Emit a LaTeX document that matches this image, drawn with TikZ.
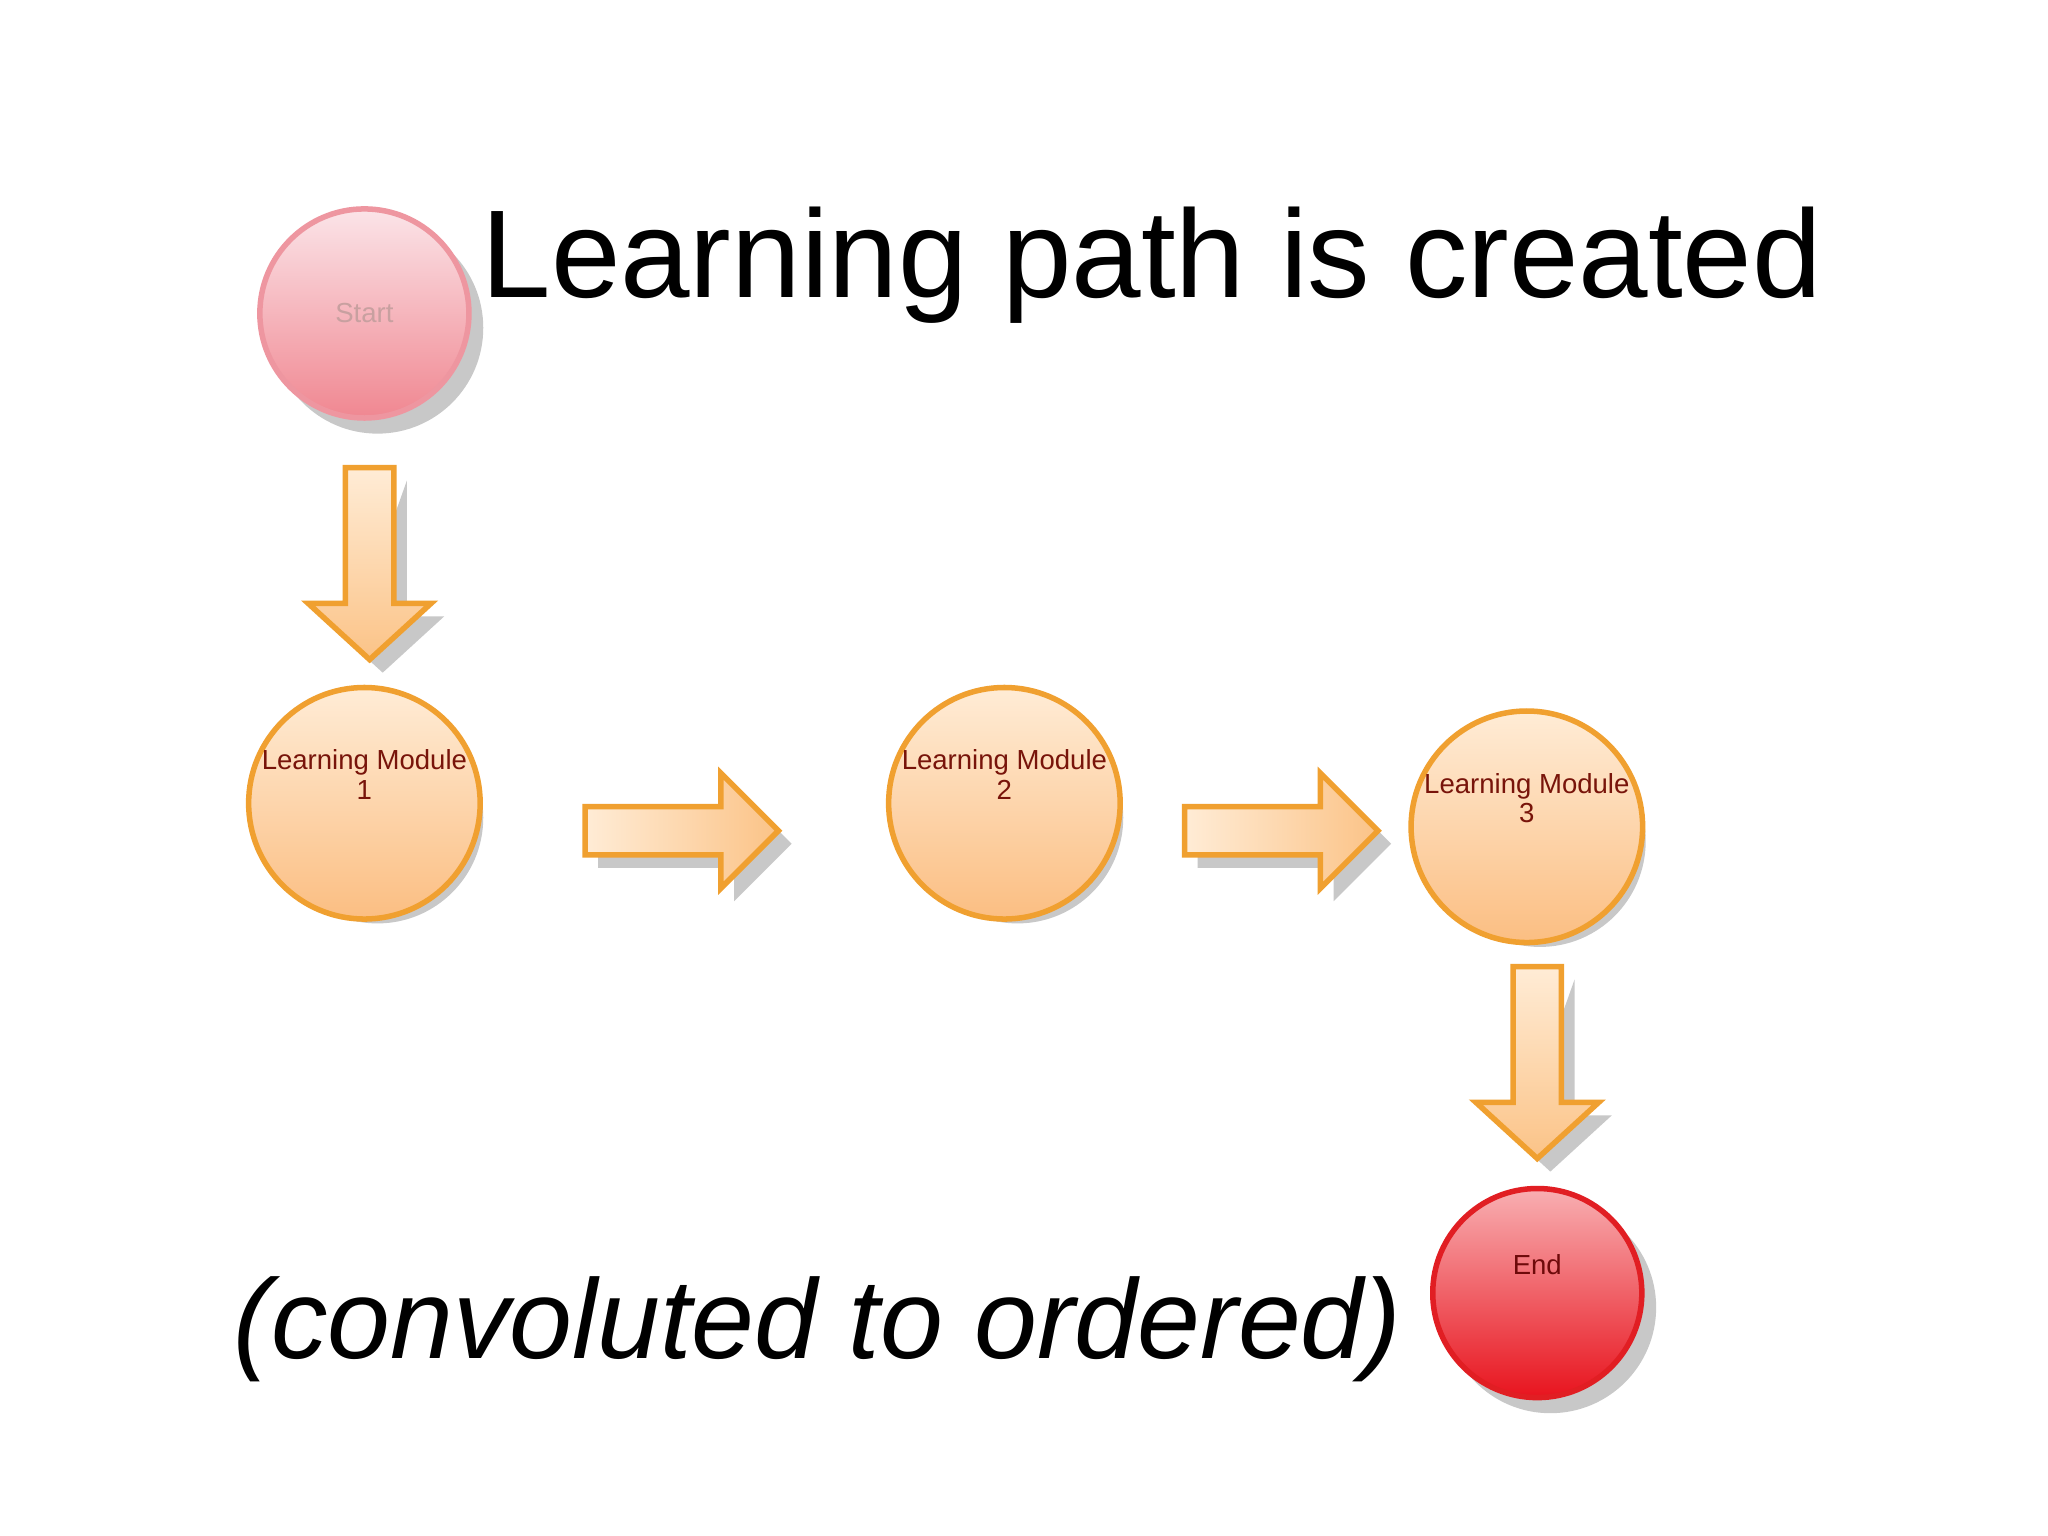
\documentclass[tikz,border=0pt]{standalone}
\usepackage{fontspec}
\setmainfont{Liberation Sans}
\begin{document}
\begin{tikzpicture}[x=0.01cm,y=-0.01cm,
  circ/.style={circle,minimum size=1.6cm,line width=1.2pt,align=center,font=\fontsize{6}{6.5}\selectfont,inner sep=0pt},
  orng/.style={circ,draw={rgb,255:red,240;green,160;blue,48},top color={rgb,255:red,255;green,236;blue,214},bottom color={rgb,255:red,251;green,190;blue,130},text={rgb,255:red,120;green,20;blue,10}},
  pinkc/.style={circ,draw={rgb,255:red,238;green,150;blue,160},top color={rgb,255:red,251;green,228;blue,232},bottom color={rgb,255:red,240;green,135;blue,145},text={rgb,255:red,200;green,160;blue,160}},
  redc/.style={circ,draw={rgb,255:red,225;green,30;blue,35},top color={rgb,255:red,248;green,175;blue,178},bottom color={rgb,255:red,232;green,20;blue,30},text={rgb,255:red,110;green,10;blue,10}},
  shad/.style={fill={rgb,255:red,200;green,200;blue,200}},
  arr/.style={draw={rgb,255:red,240;green,160;blue,48},line width=1.2pt},
  arrv/.style={arr,top color={rgb,255:red,255;green,236;blue,214},bottom color={rgb,255:red,251;green,195;blue,135}},
  arrh/.style={arr,left color={rgb,255:red,255;green,236;blue,214},right color={rgb,255:red,251;green,195;blue,135}},
  pics/darr/.style={code={
    \fill[shad] (28.5,10)--(28.5,114)--(57,114)--(10,157)--(-37,114)--(-8.5,114)--cycle;
    \path[arrv] (-18.5,0)--(18.5,0)--(18.5,104)--(47,104)--(0,147)--(-47,104)--(-18.5,104)--cycle;}},
  pics/rarr/.style={code={
    \fill[shad] (10,-8.5)--(114,-8.5)--(114,-34)--(158,10)--(114,54)--(114,28.5)--(10,28.5)--cycle;
    \path[arrh] (0,-18.5)--(104,-18.5)--(104,-44)--(148,0)--(104,44)--(104,18.5)--(0,18.5)--cycle;}}
]
\useasboundingbox (0,0) rectangle (1568,1176);
\fill[white] (0,0) rectangle (1568,1176);
\foreach \x/\y in {279/240,279/615,769/615,1169/633,1177/990}
  \fill[shad] (\x+10,\y+11) circle (81);
\node[pinkc] (start) at (279,240) {Start};
\node[orng] (m1) at (279,615) {Learning Module\\1\\[6pt]};
\node[orng] (m2) at (769,615) {Learning Module\\2\\[6pt]};
\node[orng] (m3) at (1169,633) {Learning Module\\3\\[6pt]};
\node[redc] (end) at (1177,990) {End\\[6pt]};
\pic at (283,358) {darr};
\pic at (448,636) {rarr};
\pic at (907,636) {rarr};
\pic at (1177,740) {darr};
\node[anchor=base west,font=\fontsize{27.2}{30}\selectfont,inner sep=0pt] (title) at (368,228) {Learning path is created};
\node[anchor=base west,font=\fontsize{24.6}{28}\selectfont\itshape,inner sep=0pt] (sub) at (178,1040) {(convoluted to ordered)};
\end{tikzpicture}
\end{document}
